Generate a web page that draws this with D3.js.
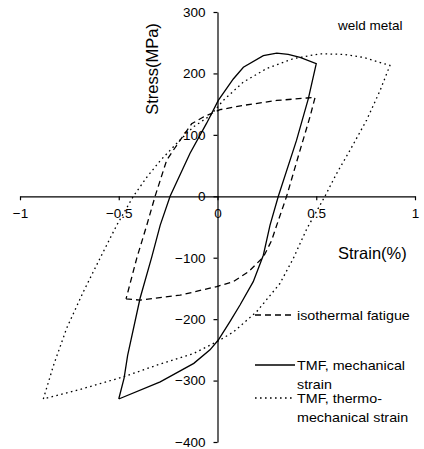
<!DOCTYPE html>
<html>
<head>
<meta charset="utf-8">
<script src="https://cdn.jsdelivr.net/npm/d3@7"></script>
<style>
	body { margin: 0; background: #fff; }
	text { font-family: "Liberation Sans", Arial, sans-serif; fill: #000; }
</style>
</head>
<body>
<div id="container"></div>
<script>
const width = 424;
const height = 449;

// strain (%) / stress (MPa) loops
const isothermal = [
	[-0.463, -167], [-0.392, -169], [-0.19, -161], [-0.004, -147], [0.08, -139],
	[0.156, -123], [0.232, -99], [0.274, -72], [0.30, -47], [0.35, 0],
	[0.418, 75], [0.468, 129], [0.494, 161], [0.452, 160], [0.30, 156],
	[0.131, 148], [0.013, 141], [-0.072, 129], [-0.131, 118], [-0.19, 91],
	[-0.257, 59], [-0.316, 0], [-0.358, -47], [-0.409, -101], [-0.463, -167]
];
const tmfMechanical = [
	[-0.50, -330], [-0.473, -296], [-0.455, -259], [-0.392, -166], [-0.333, -99],
	[-0.29, -47], [-0.24, 0], [-0.139, 70], [-0.055, 119], [0.004, 156],
	[0.08, 191], [0.131, 210], [0.232, 229], [0.30, 233], [0.358, 231],
	[0.418, 226], [0.50, 216], [0.46, 159], [0.40, 91], [0.308, 0],
	[0.266, -47], [0.232, -96], [0.181, -139], [0.114, -177], [0.063, -204],
	[0.004, -234], [-0.038, -250], [-0.12, -272], [-0.29, -302], [-0.50, -330]
];
const tmfThermoMechanical = [
	[-0.882, -330], [-0.83, -275], [-0.764, -215], [-0.68, -156], [-0.595, -101],
	[-0.51, -47], [-0.426, 0], [-0.358, 31], [-0.29, 58], [-0.207, 86],
	[-0.122, 113], [-0.038, 131], [0.029, 156], [0.131, 186], [0.249, 208],
	[0.384, 224], [0.519, 232], [0.637, 231], [0.739, 226], [0.873, 213],
	[0.823, 172], [0.755, 124], [0.671, 75], [0.603, 37], [0.544, 0],
	[0.452, -53], [0.384, -101], [0.316, -142], [0.198, -188], [0.08, -221],
	[-0.004, -237], [-0.122, -256], [-0.308, -275], [-0.477, -294], [-0.68, -313],
	[-0.882, -330]
];

const xTicks = [-1, -0.5, 0, 0.5, 1];
const yTicks = [-400, -300, -200, -100, 0, 100, 200, 300];

const legendLabels = [
	["isothermal fatigue"],
	["TMF, mechanical", "strain"],
	["TMF, thermo-", "mechanical strain"]
];
const dashes = ["6,4", null, "1.6,3.4"];

let svg = d3.select("#container")
	.append("svg")
	.attr("width", width)
	.attr("height", height);

const x = d3.scaleLinear().domain([-1, 1]).range([20, 415]);
const y = d3.scaleLinear().domain([-400, 300]).range([442, 12]);

// axes cross at the origin
let xAxis = svg.append("g")
	.attr("transform", "translate(0," + y(0) + ")")
	.call(d3.axisBottom(x).tickValues(xTicks).tickFormat(d3.format("")).tickSize(4).tickSizeOuter(0).tickPadding(8));

let yAxis = svg.append("g")
	.attr("transform", "translate(" + x(0) + ",0)")
	.call(d3.axisLeft(y).tickValues(yTicks).tickSize(4).tickSizeOuter(0).tickPadding(8));

svg.selectAll(".tick text")
	.style("font-size", "13.5px")
	.style("font-family", "'Liberation Sans', Arial, sans-serif");
svg.selectAll(".domain, .tick line")
	.attr("stroke", "#000")
	.attr("stroke-width", 1.2);

// hysteresis loops
const line = d3.line()
	.x(d => x(d[0]))
	.y(d => y(d[1]));

const loops = [isothermal, tmfMechanical, tmfThermoMechanical];

svg.selectAll("path.loop")
	.data(loops)
	.enter()
	.append("path")
	.attr("class", "loop")
	.attr("d", line)
	.attr("fill", "none")
	.attr("stroke", "#000")
	.attr("stroke-width", 1.3)
	.attr("stroke-dasharray", (d, i) => dashes[i]);

// titles
svg.append("text")
	.attr("transform", "translate(157.5,69) rotate(-90)")
	.attr("text-anchor", "middle")
	.style("font-size", "16.5px")
	.text("Stress(MPa)");

svg.append("text")
	.attr("x", 338)
	.attr("y", 259)
	.style("font-size", "16.5px")
	.text("Strain(%)");

svg.append("text")
	.attr("x", 338)
	.attr("y", 29.5)
	.style("font-size", "13.5px")
	.text("weld metal");

// legend
const legendY = [315, 365, 398];

let legend = svg.selectAll("g.legend")
	.data(legendLabels)
	.enter()
	.append("g")
	.attr("class", "legend")
	.attr("transform", (d, i) => "translate(255," + legendY[i] + ")");

legend.append("line")
	.attr("x1", 0)
	.attr("x2", 40)
	.attr("stroke", "#000")
	.attr("stroke-width", 1.3)
	.attr("stroke-dasharray", (d, i) => dashes[i]);

// the scanned legend text is wide but short, so stretch it a little
legend.selectAll("text")
	.data(d => d)
	.enter()
	.append("text")
	.attr("transform", (d, j) => "translate(42," + (j * 19) + ") scale(1.1,1)")
	.attr("dy", "0.35em")
	.style("font-size", "13px")
	.text(d => d);
</script>
</body>
</html>
